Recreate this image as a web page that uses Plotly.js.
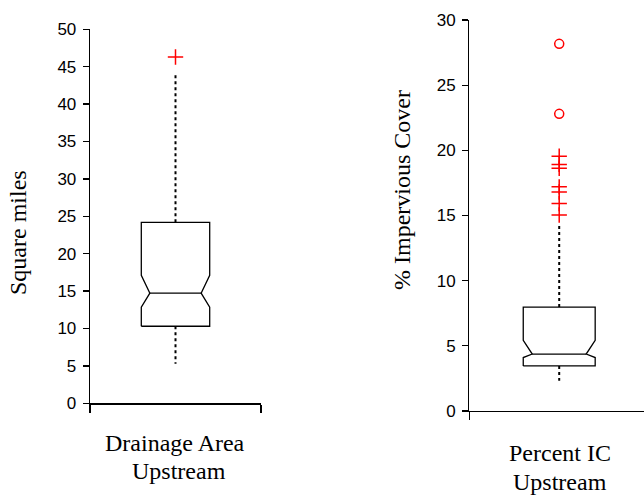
<!DOCTYPE html>
<html>
<head>
<meta charset="utf-8">
<script src="https://cdn.plot.ly/plotly-3.0.1.min.js"></script>
<style>html,body{margin:0;padding:0;background:#fff;}#chart{width:644px;height:500px;}</style>
</head>
<body>
<div id="chart"></div>
<script>
// ---- data ----
const panelNames = ["Drainage Area Upstream", "Percent IC Upstream"];
const yTitles = ["Square miles", "% Impervious Cover"];
const lowerWhisker = [5.3, 2.33];
const q1 = [10.3, 3.46];
const notchLow = [12.85, 4.1];
const median = [14.72, 4.37];
const notchHigh = [17.1, 5.43];
const q3 = [24.2, 7.97];
const upperWhisker = [43.9, 14.3];
const crossOutliers = [[46.3], [19.55, 18.92, 18.63, 17.2, 16.8, 15.92, 15.04]];
const circleOutliers = [[], [28.17, 22.8]];
const yMax = [50, 30];

// ---- styling ----
const halfW = 0.4;      // box half width (axis units)
const waist = 0.3;      // notch waist half width
const black = "#000000";
const red = "#ff0000";

const traces = [];
panelNames.forEach((name, i) => {
  const xa = i === 0 ? "x" : "x2";
  const ya = i === 0 ? "y" : "y2";
  // notched box outline
  traces.push({
    type: "scatter", mode: "lines", xaxis: xa, yaxis: ya, hoverinfo: "skip",
    x: [-halfW, -halfW, -waist, -halfW, -halfW, halfW, halfW, waist, halfW, halfW, -halfW],
    y: [q1[i], notchLow[i], median[i], notchHigh[i], q3[i], q3[i], notchHigh[i], median[i], notchLow[i], q1[i], q1[i]],
    line: {color: black, width: 1.3}
  });
  // median line
  traces.push({
    type: "scatter", mode: "lines", xaxis: xa, yaxis: ya, hoverinfo: "skip",
    x: [-waist, waist], y: [median[i], median[i]],
    line: {color: black, width: 1.3}
  });
  // whiskers
  traces.push({
    type: "scatter", mode: "lines", xaxis: xa, yaxis: ya, hoverinfo: "skip",
    x: [0, 0, null, 0, 0],
    y: [q3[i], upperWhisker[i], null, q1[i], lowerWhisker[i]],
    line: {color: black, width: 2, dash: "3px,3px"}
  });
  // outliers (+)
  if (crossOutliers[i].length) traces.push({
    type: "scatter", mode: "markers", xaxis: xa, yaxis: ya,
    x: crossOutliers[i].map(() => 0), y: crossOutliers[i],
    marker: {symbol: "cross-thin-open", size: 11, line: {color: red, width: 1.5}, color: red}
  });
  // outliers (o)
  if (circleOutliers[i].length) traces.push({
    type: "scatter", mode: "markers", xaxis: xa, yaxis: ya,
    x: circleOutliers[i].map(() => 0), y: circleOutliers[i],
    marker: {symbol: "circle-open", size: 9, line: {color: red, width: 1.5}, color: red}
  });
});

const tickFont = {family: "Liberation Sans, Arial, sans-serif", size: 17, color: black};
const serif = {family: "Liberation Serif, Times New Roman, serif", size: 24, color: black};

function yAxis(domain, max, anchor) {
  return {
    domain: domain, range: [0, max], dtick: 5, tick0: 0, anchor: anchor,
    showline: true, linecolor: black, linewidth: 1.3,
    ticks: "outside", ticklen: 6, tickwidth: 1.3, tickcolor: black,
    ticklabelstandoff: 3,
    showgrid: false, zeroline: false, tickfont: tickFont, fixedrange: true
  };
}
function xAxis(domain, range, tickvals, anchor) {
  return {
    domain: domain, range: range, anchor: anchor,
    showline: true, linecolor: black, linewidth: 1.3,
    ticks: "outside", ticklen: 8, tickwidth: 1.3, tickcolor: black,
    tickvals: tickvals, showticklabels: false,
    showgrid: false, zeroline: false, fixedrange: true
  };
}

const layout = {
  width: 644, height: 500,
  margin: {l: 0, r: 0, t: 0, b: 0},
  paper_bgcolor: "#ffffff", plot_bgcolor: "rgba(0,0,0,0)",
  showlegend: false,
  xaxis: xAxis([90/644, 261/644], [-1, 1], [-1, 1], "y"),
  yaxis: yAxis([(500-403.3)/500, (500-29.3)/500], yMax[0], "x"),
  xaxis2: xAxis([469.3/644, 1], [-1, 0.943], [-1], "y2"),
  yaxis2: yAxis([(500-411)/500, (500-20)/500], yMax[1], "x2"),
  annotations: [
    {text: yTitles[0], xref: "paper", yref: "paper", x: 18/644, y: (500-233)/500,
     xanchor: "center", yanchor: "middle", textangle: -90, showarrow: false, font: serif},
    {text: yTitles[1], xref: "paper", yref: "paper", x: 402/644, y: (500-190)/500,
     xanchor: "center", yanchor: "middle", textangle: -90, showarrow: false, font: serif},
    {text: "Drainage Area", xref: "paper", yref: "paper", x: 175.5/644, y: (500-443)/500,
     xanchor: "center", yanchor: "middle", showarrow: false, font: serif},
    {text: "Upstream", xref: "paper", yref: "paper", x: 179/644, y: (500-471)/500,
     xanchor: "center", yanchor: "middle", showarrow: false, font: serif},
    {text: "Percent IC", xref: "paper", yref: "paper", x: 560/644, y: (500-453)/500,
     xanchor: "center", yanchor: "middle", showarrow: false, font: serif},
    {text: "Upstream", xref: "paper", yref: "paper", x: 560/644, y: (500-482)/500,
     xanchor: "center", yanchor: "middle", showarrow: false, font: serif}
  ]
};

Plotly.newPlot("chart", traces, layout, {staticPlot: true, displayModeBar: false});
</script>
</body>
</html>
